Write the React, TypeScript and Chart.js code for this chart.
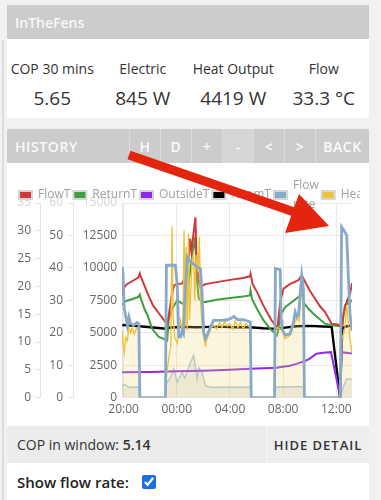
import React, { useEffect, useRef } from 'react';
import { Chart, registerables } from 'chart.js';

Chart.register(...registerables);

const FONT = "'Open Sans', sans-serif";

const legendLabels: (string | string[])[] = ['FlowT', 'ReturnT', 'OutsideT', 'RoomT', ['Flow', 'rate'], 'Heat', 'Elec'];
const seriesColors = ['#d0393b', '#3f9e3f', '#8b2be6', '#000000', '#88a9c9', '#f0c23c', '#a9c3db'];

const hourTicks = [20, 24, 28, 32, 36];
const hourLabels = ['20:00', '00:00', '04:00', '08:00', '12:00'];

// [hour, °C]
const flowT: [number, number][] = [
  [19.9, 31.5], [20.05, 34.0], [20.2, 34.8], [20.6, 35.8], [21.1, 37.0], [21.22, 38.3], [21.3, 37.2],
  [21.6, 34.2], [21.9, 31.2], [22.2, 28.5], [22.65, 26.0], [23.15, 23.3], [23.28, 22.6], [23.4, 25.4],
  [23.6, 31.0], [23.8, 34.6], [24.1, 35.0], [24.4, 35.2], [24.55, 36.5], [24.7, 41.5], [24.8, 38.0],
  [25.0, 49.0], [25.1, 45.0], [25.4, 55.6], [25.5, 40.7], [25.65, 36.0], [25.78, 34.0], [25.95, 34.5],
  [26.15, 35.0], [27.0, 35.6], [28.0, 36.3], [29.0, 36.9], [29.5, 37.4], [29.55, 38.2], [29.7, 35.0],
  [30.03, 32.6], [30.5, 28.5], [30.78, 26.4], [31.1, 24.0], [31.5, 21.8], [31.6, 22.5], [31.78, 29.5],
  [32.03, 33.6], [32.5, 35.0], [33.15, 36.2], [33.4, 37.7], [33.65, 35.7], [34.0, 33.0], [34.4, 30.5],
  [34.8, 28.0], [35.15, 26.4], [35.65, 22.8], [36.3, 22.4], [36.45, 22.0], [36.52, 25.4], [36.78, 29.5],
  [37.03, 32.0], [37.18, 35.3],
];
const returnT: [number, number][] = [
  [19.9, 28.5], [20.05, 29.5], [20.2, 29.8], [21.1, 31.0], [21.22, 31.8], [21.3, 30.5], [21.6, 27.0],
  [21.8, 25.4], [22.15, 21.2], [22.65, 18.7], [23.15, 17.9], [23.28, 17.6], [23.4, 24.3], [23.65, 27.4],
  [24.03, 30.0], [24.4, 29.0], [24.55, 29.5], [24.7, 36.5], [24.85, 34.0], [25.1, 42.0], [25.4, 49.6],
  [25.5, 37.0], [25.65, 30.6], [25.9, 29.5], [26.15, 29.5], [27.0, 30.2], [28.0, 30.7], [29.0, 31.2],
  [29.5, 31.5], [29.55, 33.0], [29.65, 30.5], [30.03, 27.4], [30.53, 23.8], [31.03, 21.2], [31.53, 19.2],
  [31.6, 20.0], [31.78, 25.4], [32.15, 27.9], [33.15, 31.0], [33.4, 32.0], [33.6, 29.0], [33.9, 27.4],
  [34.4, 25.4], [35.15, 22.8], [35.65, 22.3], [36.3, 22.0], [36.45, 22.5], [36.65, 28.5], [37.03, 29.5],
  [37.18, 30.0],
];
const outsideT: [number, number][] = [
  [19.9, 7.8], [22.0, 7.9], [24.0, 8.1], [26.0, 8.3], [28.0, 8.6], [29.5, 8.9], [31.5, 9.2], [32.5, 9.8],
  [33.0, 10.4], [33.6, 11.2], [34.0, 12.0], [34.5, 13.5], [35.0, 13.8], [35.6, 14.0], [36.28, 0.5],
  [36.4, 14.0], [37.18, 13.6],
];
const roomT: [number, number][] = [
  [19.9, 22.4], [20.5, 22.2], [21.2, 22.0], [22.0, 21.7], [23.0, 21.3], [23.3, 21.2], [23.5, 21.6],
  [24.0, 21.7], [24.5, 21.8], [25.5, 21.7], [26.5, 21.8], [27.5, 21.8], [28.5, 21.7], [29.5, 21.7],
  [30.5, 21.4], [31.5, 21.2], [32.0, 21.5], [33.0, 22.0], [34.0, 22.1], [35.0, 21.9], [35.65, 21.8],
  [36.28, 0], [36.45, 21.5], [36.8, 22.0], [37.18, 22.2],
];
// [hour, l/min]
const flowRate: [number, number][] = [
  [19.9, 23.5], [19.96, 22.0], [20.05, 16.0], [20.15, 14.8], [20.28, 13.0], [20.4, 14.5], [20.53, 13.3],
  [20.75, 13.0], [21.0, 13.5], [21.15, 13.3], [21.22, 0], [23.15, 0], [23.22, 23.8], [23.9, 23.8],
  [24.03, 20.2], [24.15, 11.0], [24.28, 10.9], [24.4, 12.0], [24.5, 11.5], [24.65, 20.0], [24.8, 25.3],
  [25.0, 24.5], [25.27, 24.0], [25.53, 23.5], [25.78, 23.2], [25.9, 19.0], [26.02, 11.8], [26.15, 10.6],
  [26.28, 11.2], [26.53, 12.7], [26.77, 13.9], [27.3, 13.9], [27.8, 14.0], [28.03, 14.2], [28.3, 14.6],
  [28.6, 14.0], [29.0, 14.0], [29.53, 13.6], [29.6, 0], [31.35, 0], [31.42, 23.2], [31.78, 23.0],
  [31.85, 14.0], [31.91, 12.4], [32.15, 11.2], [32.53, 11.5], [32.78, 13.6], [32.9, 15.4], [33.03, 14.5],
  [33.15, 14.8], [33.4, 22.0], [33.53, 19.6], [33.6, 0], [36.3, 0], [36.4, 30.7], [36.65, 29.8],
  [36.78, 29.2], [36.9, 22.0], [37.03, 15.0], [37.18, 12.0],
];
// [hour, W]
const heat: [number, number][] = [
  [19.9, 5180], [19.96, 4200], [20.05, 3500], [20.15, 4660], [20.28, 4400], [20.4, 5440], [20.53, 5000],
  [20.65, 5400], [20.8, 4900], [20.95, 5300], [21.15, 5440], [21.22, 0], [23.15, 0], [23.22, 1570],
  [23.4, 3120], [23.55, 4000], [23.65, 13170], [23.72, 6470], [23.85, 4660], [24.03, 4200], [24.28, 5950],
  [24.45, 4800], [24.55, 12900], [24.62, 5500], [24.7, 11620], [24.78, 5180], [24.88, 12660], [24.95, 6000],
  [25.15, 10600], [25.27, 11110], [25.35, 7500], [25.45, 11000], [25.6, 9700], [25.7, 12400], [25.78, 7500],
  [25.9, 5700], [26.02, 4660], [26.15, 4020], [26.28, 4540], [26.53, 5310], [26.77, 5570], [27.0, 5300],
  [27.2, 5800], [27.4, 5400], [27.6, 5900], [27.8, 5500], [28.0, 5700], [28.2, 5300], [28.4, 5900],
  [28.6, 5400], [28.8, 5800], [29.0, 5300], [29.2, 5700], [29.4, 5500], [29.53, 5400], [29.6, 0],
  [31.35, 0], [31.42, 5180], [31.6, 5400], [31.91, 5180], [32.15, 4540], [32.53, 4800], [32.78, 5570],
  [33.03, 6090], [33.2, 5900], [33.4, 9180], [33.53, 7120], [33.6, 0], [36.3, 0], [36.42, 4540],
  [36.65, 5310], [36.78, 7120], [37.03, 4540], [37.18, 3500],
];
const elec: [number, number][] = [
  [19.9, 930], [20.1, 1000], [20.4, 800], [21.15, 820], [21.22, 0], [23.15, 0], [23.2, 1060],
  [23.53, 1570], [23.77, 2220], [24.03, 1180], [24.4, 1960], [24.6, 1500], [25.03, 2730], [25.27, 3250],
  [25.53, 1450], [25.65, 2300], [25.9, 1960], [26.15, 930], [26.53, 800], [29.53, 800], [29.6, 0],
  [31.35, 0], [31.42, 800], [33.15, 850], [33.53, 800], [33.6, 0], [36.3, 0], [36.45, 600],
  [36.78, 1450], [37.18, 1400],
];

const stats = [
  { label: 'COP 30 mins', value: '5.65' },
  { label: 'Electric', value: '845 W' },
  { label: 'Heat Output', value: '4419 W' },
  { label: 'Flow', value: '33.3 °C' },
];
const buttons = [
  { t: 'H', w: 31 }, { t: 'D', w: 31 }, { t: '+', w: 31 }, { t: '-', w: 31, light: true },
  { t: '<', w: 31 }, { t: '>', w: 31 }, { t: 'BACK', w: 54 },
];

const CANVAS_W = 450;
const CANVAS_H = 250;
const PLOT_RIGHT = 336; // canvas px
const LEGEND_CY = 23; // canvas px
const PLOT_TOP = 31; // canvas px

function pts(a: [number, number][]) {
  return a.map(([x, y]) => ({ x, y }));
}

const legendPlugin = {
  id: 'rowLegend',
  afterDraw(chart: any) {
    const ctx = chart.ctx as CanvasRenderingContext2D;
    ctx.save();
    ctx.font = `12px ${FONT}`;
    ctx.textBaseline = 'middle';
    ctx.textAlign = 'left';
    let x = 3;
    const lh = 18.5;
    legendLabels.forEach((lab, i) => {
      const lines = Array.isArray(lab) ? lab : [lab];
      ctx.fillStyle = seriesColors[i];
      ctx.fillRect(x, LEGEND_CY - 4, 13, 8);
      ctx.lineWidth = 2;
      ctx.strokeStyle = '#d6d6d6';
      ctx.strokeRect(x, LEGEND_CY - 4, 13, 8);
      ctx.fillStyle = '#a0a0a0';
      let w = 0;
      lines.forEach((ln, k) => {
        const y = LEGEND_CY - ((lines.length - 1) * lh) / 2 + k * lh;
        ctx.fillText(ln, x + 19, y);
        w = Math.max(w, ctx.measureText(ln).width);
      });
      x += 19 + w + 3;
    });
    ctx.restore();
  },
};

function ChartBox() {
  const ref = useRef<HTMLCanvasElement>(null);
  useEffect(() => {
    if (!ref.current) return;
    const tickFont = { family: FONT, size: 12 };
    const tickColor = (max: number) => (c: any) => (c.tick && c.tick.value === max ? '#d4d4d4' : '#666');
    const plain = (v: any) => String(v);
    const line = (i: number, data: [number, number][], axis: string, extra: any = {}) => ({
      label: Array.isArray(legendLabels[i]) ? (legendLabels[i] as string[]).join(' ') : (legendLabels[i] as string),
      data: pts(data),
      yAxisID: axis,
      borderColor: seriesColors[i],
      backgroundColor: seriesColors[i],
      borderWidth: 2,
      pointRadius: 0,
      tension: 0,
      fill: false,
      ...extra,
    });
    const chart = new Chart(ref.current, {
      type: 'line',
      data: {
        datasets: [
          line(0, flowT, 'yTemp', { order: 3 }),
          line(1, returnT, 'yTemp', { order: 4 }),
          line(2, outsideT, 'yTemp', { order: 5 }),
          line(3, roomT, 'yTemp', { order: 6, borderWidth: 2.4 }),
          line(4, flowRate, 'yFlow', { order: 1, borderWidth: 2.8 }),
          line(5, heat, 'yPower', { order: 2, fill: 'origin', backgroundColor: 'rgba(245,214,120,0.25)', borderWidth: 1.4 }),
          line(6, elec, 'yPower', { order: 7, fill: 'origin', backgroundColor: 'rgba(170,178,172,0.22)', borderWidth: 1.4 }),
        ],
      },
      plugins: [legendPlugin],
      options: {
        responsive: false,
        animation: false,
        layout: { padding: { top: PLOT_TOP, bottom: 0, left: 0, right: 0 } },
        plugins: {
          tooltip: { enabled: false },
          legend: { display: false },
        },
        scales: {
          x: {
            type: 'linear',
            min: 19.88,
            max: 37.18,
            afterBuildTicks: (s: any) => {
              s.ticks = hourTicks.map((v) => ({ value: v }));
            },
            ticks: {
              callback: (_v: any, i: number) => hourLabels[i],
              color: '#666',
              font: tickFont,
              maxRotation: 0,
              autoSkip: false,
              padding: 5,
            },
            grid: { color: '#e9e9e9', drawTicks: false },
            border: { display: false },
          },
          yPower: {
            position: 'left',
            weight: 1,
            min: 0,
            max: 15000,
            ticks: { stepSize: 2500, padding: 5, color: tickColor(15000), font: tickFont, callback: plain },
            grid: { color: '#e9e9e9', drawTicks: false },
            border: { color: '#e4e4e4' },
            afterFit: (s: any) => { s.width = 49; },
          },
          yTemp: {
            position: 'left',
            weight: 2,
            min: 0,
            max: 60,
            ticks: { stepSize: 10, padding: 5, color: tickColor(60), font: tickFont, callback: plain },
            grid: { drawOnChartArea: false, tickLength: 5, color: '#e4e4e4' },
            border: { color: '#e4e4e4' },
            afterFit: (s: any) => { s.width = 33; },
          },
          yFlow: {
            position: 'left',
            weight: 3,
            min: 0,
            max: 35,
            ticks: { stepSize: 5, padding: 4, color: tickColor(35), font: tickFont, callback: plain },
            grid: { drawOnChartArea: false, tickLength: 5, color: '#e4e4e4' },
            border: { color: '#e4e4e4' },
            afterFit: (s: any) => { s.width = 24; },
          },
          yR: {
            position: 'right',
            display: true,
            ticks: { display: false },
            grid: { display: false },
            border: { display: false },
            afterFit: (s: any) => { s.width = CANVAS_W - PLOT_RIGHT; },
          },
        },
      } as any,
    });
    return () => chart.destroy();
  }, []);
  return <canvas ref={ref} width={CANVAS_W} height={CANVAS_H} style={{ display: 'block', width: CANVAS_W, height: CANVAS_H }} />;
}

export default function App() {
  const btnText: React.CSSProperties = { color: '#fafafa', fontSize: 14, fontWeight: 600, letterSpacing: 0.6 };
  return (
    <div style={{ position: 'fixed', left: 0, top: 0, width: 381, height: 500, background: '#f1f1f1', overflow: 'hidden', fontFamily: FONT, color: '#333' }}>
      <div style={{ position: 'absolute', left: 2, top: 40, width: 2, height: 460, background: '#dcdcdc' }} />
      {/* header */}
      <div style={{ position: 'absolute', left: 7, top: 5, width: 362, height: 34, background: '#cccccc', display: 'flex', alignItems: 'center' }}>
        <span style={{ marginLeft: 8, color: '#f7f7f7', fontSize: 14, fontWeight: 600 }}>InTheFens</span>
      </div>
      <div style={{ position: 'absolute', left: 7, top: 39, width: 362, height: 79, background: '#fff', display: 'flex' }}>
        {stats.map((s, i) => (
          <div key={i} style={{ flex: 1, textAlign: 'center', position: 'relative' }}>
            <div style={{ position: 'absolute', left: 0, right: 0, top: 21, fontSize: 14, lineHeight: '18px' }}>{s.label}</div>
            <div style={{ position: 'absolute', left: 0, right: 0, top: 47, fontSize: 19, lineHeight: '24px' }}>{s.value}</div>
          </div>
        ))}
      </div>
      {/* history bar */}
      <div style={{ position: 'absolute', left: 7, top: 129, width: 362, height: 34, background: '#cccccc', display: 'flex' }}>
        <div style={{ width: 122, display: 'flex', alignItems: 'center' }}>
          <span style={{ ...btnText, marginLeft: 8 }}>HISTORY</span>
        </div>
        {buttons.map((b, i) => (
          <div key={i} style={{ width: b.w, borderLeft: '1px solid #dadada', boxSizing: 'border-box', display: 'flex', alignItems: 'center', justifyContent: 'center', background: b.light ? '#d5d5d5' : 'transparent' }}>
            <span style={btnText}>{b.t}</span>
          </div>
        ))}
      </div>
      {/* chart card */}
      <div style={{ position: 'absolute', left: 7, top: 163, width: 362, height: 263, background: '#fff' }} />
      <div style={{ position: 'absolute', left: 16, top: 172, width: 344, height: CANVAS_H, overflow: 'hidden' }}>
        <ChartBox />
      </div>
      {/* COP bar */}
      <div style={{ position: 'absolute', left: 7, top: 426, width: 362, height: 37, background: '#ececec', display: 'flex' }}>
        <div style={{ flex: 1, display: 'flex', alignItems: 'center' }}>
          <span style={{ marginLeft: 10, fontSize: 14 }}>COP in window: <b style={{ fontWeight: 600 }}>5.14</b></span>
        </div>
        <div style={{ width: 102, borderLeft: '1px solid #f6f6f6', display: 'flex', alignItems: 'center', justifyContent: 'center', background: '#eeeeee' }}>
          <span style={{ fontSize: 13, fontWeight: 600, letterSpacing: 1 }}>HIDE DETAIL</span>
        </div>
      </div>
      <div style={{ position: 'absolute', left: 7, top: 463, width: 362, height: 37, background: '#fff', display: 'flex', alignItems: 'center' }}>
        <span style={{ marginLeft: 10, fontSize: 15, fontWeight: 600, color: '#222' }}>Show flow rate:</span>
        <input type="checkbox" defaultChecked style={{ marginLeft: 13, width: 14, height: 14, accentColor: '#1a6fe8' }} />
      </div>
      {/* annotation arrow */}
      <svg width={381} height={500} style={{ position: 'absolute', left: 0, top: 0, pointerEvents: 'none' }}>
        <line x1={129} y1={155} x2={300} y2={214} stroke="#e3240f" strokeWidth={9} />
        <polygon points="329,226 285,233 299,194" fill="#e3240f" />
      </svg>
    </div>
  );
}
